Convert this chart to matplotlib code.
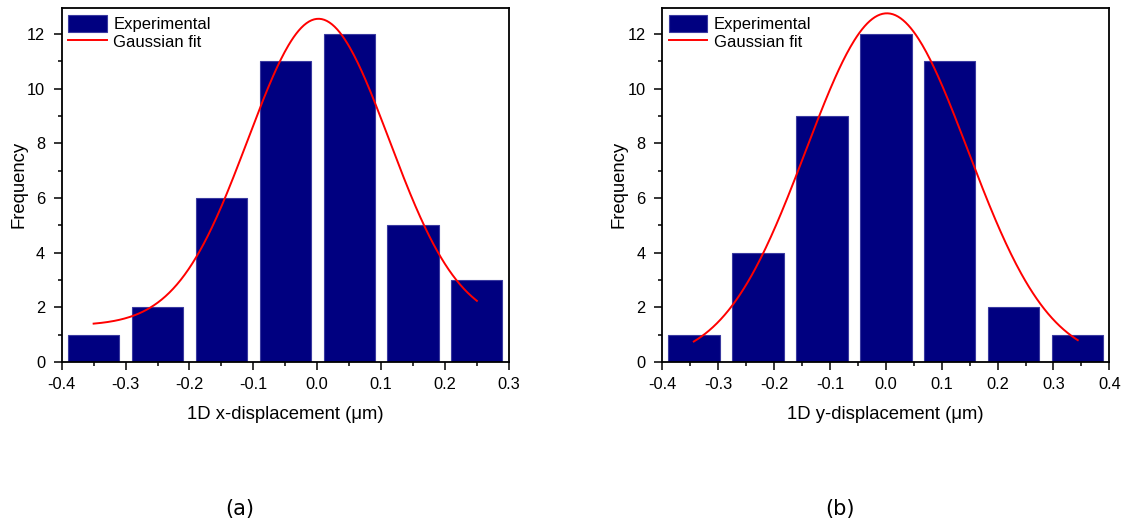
import numpy as np
import matplotlib
matplotlib.use("Agg")
import matplotlib.pyplot as plt
from matplotlib.ticker import MultipleLocator

plt.rcParams['font.family'] = ['Liberation Sans', 'DejaVu Sans']

# panel (a): x-displacement histogram
x_centers = [-0.35, -0.25, -0.15, -0.05, 0.05, 0.15, 0.25]
x_counts = [1, 2, 6, 11, 12, 5, 3]
x_width = 0.08
# gaussian fit parameters (y0, A, xc, w) and fit range
x_fit = dict(y0=1.33, A=11.22, xc=0.002, w=0.1105)
x_fit_range = (-0.35, 0.25)

# panel (b): y-displacement histogram
y_centers = [-0.3435, -0.229, -0.1145, 0.0, 0.1145, 0.229, 0.3435]
y_counts = [1, 4, 9, 12, 11, 2, 1]
y_width = 0.092
y_fit = dict(y0=0.0, A=12.75, xc=0.002, w=0.145)
y_fit_range = (-0.3435, 0.3435)


def gauss(x, y0, A, xc, w):
    return y0 + A * np.exp(-(x - xc) ** 2 / (2 * w ** 2))


fig = plt.figure(figsize=(11.32, 5.23), dpi=100)
ax1 = fig.add_axes([0.0545, 0.308, 0.395, 0.677])
ax2 = fig.add_axes([0.585, 0.308, 0.395, 0.677])


def panel(ax, centers, counts, width, fit, frange, xlim, xlabel):
    bars = ax.bar(centers, counts, width=width, color='#000080', edgecolor='#3a3aa0',
                  linewidth=0.8, zorder=2)
    xs = np.linspace(frange[0], frange[1], 300)
    line, = ax.plot(xs, gauss(xs, **fit), color='#ff0000', lw=1.4, zorder=3)
    ax.set_xlim(*xlim)
    ax.set_ylim(0, 12.95)
    ax.xaxis.set_major_locator(MultipleLocator(0.1))
    ax.xaxis.set_minor_locator(MultipleLocator(0.05))
    ax.yaxis.set_major_locator(MultipleLocator(2))
    ax.yaxis.set_minor_locator(MultipleLocator(1))
    ax.tick_params(which='both', direction='out', top=False, right=False, labelsize=11.8, width=1.1)
    ax.tick_params(which='major', length=6)
    ax.tick_params(which='minor', length=3)
    ax.tick_params(axis='x', which='major', pad=5)
    ax.tick_params(axis='y', which='major', pad=6)
    ax.xaxis.set_major_formatter(matplotlib.ticker.FuncFormatter(lambda v, p: '%.1f' % v))
    for s in ax.spines.values():
        s.set_linewidth(1.3)
    ax.set_xlabel(xlabel, fontsize=13.3, labelpad=10)
    ax.set_ylabel('Frequency', fontsize=13.3)
    ax.yaxis.set_label_coords(-0.077, 0.5)
    ax.legend([bars, line], ['Experimental', 'Gaussian fit'], loc='upper left',
              frameon=False, fontsize=12, handlelength=2.3, handleheight=1.25,
              handletextpad=0.4, borderaxespad=0.25, labelspacing=0.05, borderpad=0.15)


panel(ax1, x_centers, x_counts, x_width, x_fit, x_fit_range, (-0.4, 0.3),
      '1D x-displacement (\u03bcm)')
panel(ax2, y_centers, y_counts, y_width, y_fit, y_fit_range, (-0.4, 0.4),
      '1D y-displacement (\u03bcm)')

fig.text(0.212, 0.026, '(a)', fontsize=15, family='DejaVu Sans', ha='center', va='center')
fig.text(0.742, 0.026, '(b)', fontsize=15, family='DejaVu Sans', ha='center', va='center')

fig.savefig('out.png', dpi=100)
